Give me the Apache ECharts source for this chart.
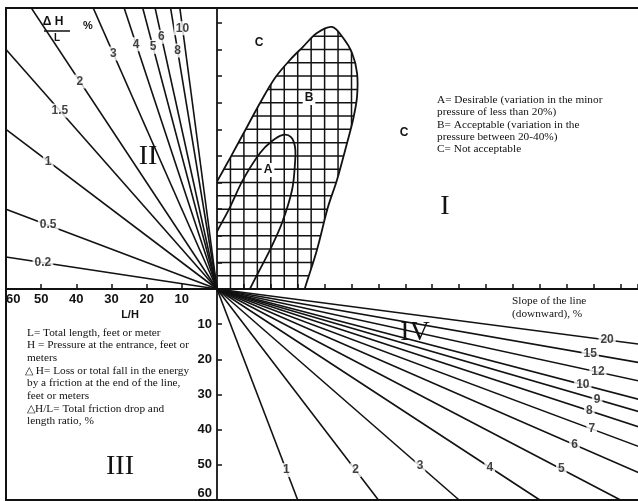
<!DOCTYPE html>
<html>
<head>
<meta charset="utf-8">
<script src="https://cdn.jsdelivr.net/npm/echarts@6/dist/echarts.min.js"></script>
<style>
  html, body { margin: 0; padding: 0; background: #fff; }
  #chart { width: 638px; height: 501px; }
</style>
</head>
<body>
<div id="chart"></div>
<script>
// Quadrant II: friction drop / length ratio ΔH/L (%), lines over L/H
const frictionRatios = [0.2, 0.5, 1, 1.5, 2, 3, 4, 5, 6, 8, 10];
// L/H value at which each ratio label sits on its line
const frictionLabelAt = [49.5, 48, 48, 44.7, 39, 29.5, 23, 18.2, 15.8, 11.2, 9.8];

// Quadrant IV: slope of the line (downward, %)
const slopes = [1, 2, 3, 4, 5, 6, 7, 8, 9, 10, 12, 15, 20];
const slopeLabelAt = [51.5, 51.5, 50.3, 50.7, 51.2, 44.3, 39.8, 34.6, 31.4, 27.2, 23.6, 18.5, 14.5];

// L/H scale (shared by quadrants II and IV)
const lhTicks = [0, 10, 20, 30, 40, 50, 60];

// Quadrant I: zone outlines as [elevation ratio %, friction ratio %]
const zoneB = [
  [-16.4, 25.2], [-8.9, 32.3], [0.7, 41.0], [9.7, 49.2], [22.3, 60.9], [32.0, 69.9],
  [43.1, 79.3], [54.3, 86.1], [63.9, 91.0], [74.3, 96.2], [85.5, 98.5], [93.7, 94.4],
  [100.4, 88.7], [104.1, 81.2], [104.1, 72.2], [101.1, 63.5], [96.7, 54.9], [89.2, 41.0],
  [82.5, 30.8], [74.3, 14.7], [65.4, 0.4], [61.7, -6.0], [9.7, -11.7], [-16.4, -6.0]
];
const zoneA = [
  [-12.6, -2.3], [-6.7, 15.0], [0.7, 22.2], [9.7, 30.8], [19.3, 41.0], [32.0, 51.1],
  [40.9, 55.6], [49.1, 57.9], [55.0, 57.1], [58.0, 53.4], [58.0, 47.4], [55.8, 37.2],
  [48.3, 24.8], [39.4, 14.7], [30.5, 6.0], [24.5, 0], [20.1, -4.9], [5.9, -7.9]
];
// Cross-hatching of zone B
const hatchX = [10, 20, 30, 40, 50, 60, 70, 80, 90, 100, 110];
const hatchY = [5, 10, 15, 20, 25, 30, 35, 40, 45, 50, 55, 60, 65, 70, 75, 80, 85, 90, 95, 100];

// Axis extents
const topRatioMax = 105.6;   // ΔH/H, %
const elevRatioMax = 313;    // ΔZ/H, %

const INK = '#121212';
const SANS = '"Liberation Sans", Arial, sans-serif';
const SERIF = '"Liberation Serif", "Times New Roman", serif';

const lhMax = lhTicks[lhTicks.length - 1];
const lhStep = lhTicks[1] - lhTicks[0];

const lineStyle = { color: INK, width: 1.6 };
const labelStyle = {
  show: true, position: 'inside', formatter: p => p.data[2],
  color: INK, fontFamily: SANS, fontWeight: 'bold', fontSize: 12,
  backgroundColor: '#fff', padding: [1, 2]
};

const series = [];

frictionRatios.forEach((p, i) => {
  series.push({
    type: 'line', xAxisIndex: 0, yAxisIndex: 0, symbol: 'none', silent: true,
    lineStyle, data: [[0, 0], [lhMax, lhMax * p]], z: 2
  });
  const t = frictionLabelAt[i];
  series.push({
    type: 'scatter', xAxisIndex: 0, yAxisIndex: 0, symbolSize: 1,
    itemStyle: { color: 'transparent' }, label: labelStyle, z: 5,
    data: [[t, t * p, String(p)]]
  });
});

slopes.forEach((s, i) => {
  series.push({
    type: 'line', xAxisIndex: 2, yAxisIndex: 2, symbol: 'none', silent: true,
    lineStyle, data: [[0, 0], [lhMax * s, lhMax]], z: 2
  });
  const t = slopeLabelAt[i];
  series.push({
    type: 'scatter', xAxisIndex: 2, yAxisIndex: 2, symbolSize: 1,
    itemStyle: { color: 'transparent' }, label: labelStyle, z: 5,
    data: [[t * s, t, String(s)]]
  });
});

// Zones A and B with the hatching of B
series.push({
  type: 'custom', coordinateSystem: 'cartesian2d', xAxisIndex: 1, yAxisIndex: 1,
  silent: true, z: 3, data: [[0, 0]],
  renderItem(params, api) {
    const cs = params.coordSys;
    const bPts = zoneB.map(v => api.coord(v));
    const aPts = zoneA.map(v => api.coord(v));
    const hatch = [];
    hatchX.forEach(v => {
      const p0 = api.coord([v, 0]), p1 = api.coord([v, topRatioMax]);
      hatch.push({ type: 'line', shape: { x1: p0[0], y1: p0[1], x2: p1[0], y2: p1[1] },
        style: { stroke: INK, lineWidth: 1.5 } });
    });
    hatchY.forEach(v => {
      const p0 = api.coord([0, v]), p1 = api.coord([130, v]);
      hatch.push({ type: 'line', shape: { x1: p0[0], y1: p0[1], x2: p1[0], y2: p1[1] },
        style: { stroke: INK, lineWidth: 1.5 } });
    });
    return {
      type: 'group',
      clipPath: { type: 'rect', shape: { x: cs.x, y: cs.y, width: cs.width, height: cs.height } },
      children: [
        { type: 'group', clipPath: { type: 'polygon', shape: { points: bPts, smooth: 0.35 } }, children: hatch },
        { type: 'polygon', shape: { points: bPts, smooth: 0.35 }, style: { fill: 'none', stroke: INK, lineWidth: 1.8 } },
        { type: 'polygon', shape: { points: aPts, smooth: 0.35 }, style: { fill: 'none', stroke: INK, lineWidth: 1.8 } }
      ]
    };
  }
});

function txt(text, x, y, font, align, extra) {
  return {
    type: 'text', x, y, z: 60, silent: true,
    style: Object.assign({
      text, font, fill: INK,
      align: align || 'left', verticalAlign: 'middle',
      textAlign: align || 'left', textVerticalAlign: 'middle'
    }, extra || {})
  };
}

const serifFont = '11.3px ' + SERIF;
const legendI = [
  'A= Desirable (variation in the minor',
  'pressure of less than 20%)',
  'B= Acceptable (variation in the',
  'pressure between 20-40%)',
  'C= Not acceptable'
];
const legendIY = [100, 112, 125, 137, 149];
const notesIII = [
  'L= Total length, feet or meter',
  'H = Pressure at the entrance, feet or',
  'meters',
  '\u25B3 H= Loss or total fall in the energy',
  'by a friction at the end of the line,',
  'feet or meters',
  '\u25B3H/L= Total friction drop and',
  'length ratio, %'
];
const notesIIIY = [333, 345.5, 358, 371, 383.5, 396, 409, 421];

const graphics = [
  { type: 'rect', z: 60, silent: true, shape: { x: 6, y: 8, width: 660, height: 492 },
    style: { fill: 'none', stroke: INK, lineWidth: 2 } },
  txt('II', 148, 157, '28px ' + SERIF, 'center'),
  txt('I', 445, 207, '28px ' + SERIF, 'center'),
  txt('III', 120, 467, '28px ' + SERIF, 'center'),
  txt('IV', 415, 333, '28px ' + SERIF, 'center'),
  txt('\u0394 H', 53, 22, 'bold 12px ' + SANS, 'center'),
  { type: 'line', z: 60, silent: true, shape: { x1: 44, y1: 31, x2: 70, y2: 31 }, style: { stroke: INK, lineWidth: 1.5 } },
  txt('L', 57, 38, 'bold 10px ' + SANS, 'center'),
  txt('%', 88, 26, 'bold 11px ' + SANS, 'center'),
  txt('L/H', 130, 315, 'bold 11px ' + SANS, 'center'),
  txt('C', 259, 43, 'bold 12px ' + SANS, 'center'),
  txt('C', 404, 133, 'bold 12px ' + SANS, 'center'),
  txt('B', 309, 98, 'bold 12px ' + SANS, 'center', { backgroundColor: '#fff', padding: [1, 2] }),
  txt('A', 268, 170, 'bold 12px ' + SANS, 'center', { backgroundColor: '#fff', padding: [1, 2] }),
  txt('Slope of the line', 512, 301, serifFont),
  txt('(downward), %', 512, 314, serifFont)
];
legendI.forEach((t, i) => graphics.push(txt(t, 437, legendIY[i], serifFont)));
notesIII.forEach((t, i) => graphics.push(txt(t, i === 3 ? 25 : 27, notesIIIY[i], serifFont)));

const axisLine = { show: true, onZero: false, lineStyle: { color: INK, width: 1.8 } };
const axisTick = { show: true, inside: true, length: 5, lineStyle: { color: INK, width: 1.5 } };
const tickLabel = { color: INK, fontFamily: SANS, fontWeight: 'bold', fontSize: 13 };

const option = {
  backgroundColor: '#fff',
  animation: false,
  grid: [
    { left: 6, top: 8, width: 211, height: 281 },
    { left: 217, top: 8, width: 421, height: 281 },
    { left: 217, top: 289, width: 421, height: 211 }
  ],
  xAxis: [
    { gridIndex: 0, type: 'value', min: lhTicks[0], max: lhMax, interval: lhStep, inverse: true,
      position: 'bottom', axisLine, axisTick, splitLine: { show: false },
      axisLabel: Object.assign({ margin: 4, showMinLabel: false, alignMaxLabel: 'left' }, tickLabel) },
    { gridIndex: 1, type: 'value', min: 0, max: elevRatioMax, interval: 20, position: 'bottom',
      axisLine, axisTick, splitLine: { show: false }, axisLabel: { show: false } },
    { gridIndex: 2, type: 'value', min: 0, max: elevRatioMax, show: false }
  ],
  yAxis: [
    { gridIndex: 0, type: 'value', min: 0, max: topRatioMax, show: false },
    { gridIndex: 1, type: 'value', min: 0, max: topRatioMax, interval: 10, position: 'left',
      axisLine, axisTick, splitLine: { show: false }, axisLabel: { show: false } },
    { gridIndex: 2, type: 'value', min: lhTicks[0], max: lhMax, interval: lhStep, inverse: true,
      position: 'left', axisLine, axisTick, splitLine: { show: false },
      axisLabel: Object.assign({ margin: 5, showMinLabel: false, verticalAlignMaxLabel: 'bottom' }, tickLabel) }
  ],
  series,
  graphic: { elements: graphics }
};

const chart = echarts.init(document.getElementById('chart'), null, { renderer: 'canvas' });
chart.setOption(option);
</script>
</body>
</html>
